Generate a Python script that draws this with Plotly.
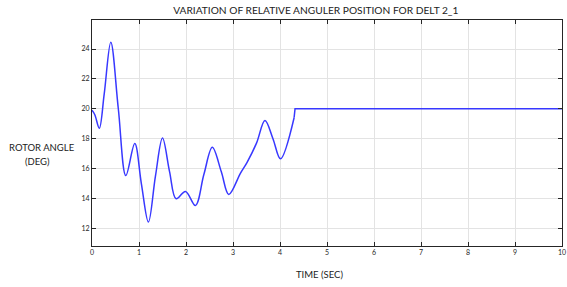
import plotly.graph_objects as go

# Oscillating part
t_osc = [0, 0.06, 0.155, 0.26, 0.40, 0.56, 0.72, 0.91, 1.05, 1.20, 1.35, 1.50, 1.65,
         1.79, 1.99, 2.20, 2.38, 2.56, 2.75, 2.91, 3.16, 3.30, 3.50, 3.68, 3.85, 4.01, 4.30]
y_osc = [19.9, 19.6, 18.7, 21.0, 24.45, 20.0, 15.53, 17.67, 15.0, 12.42, 15.5, 18.04, 15.8,
         13.98, 14.47, 13.53, 15.6, 17.42, 15.8, 14.27, 15.7, 16.42, 17.7, 19.22, 18.0, 16.65, 19.4]
# Settled part
t_flat = [4.30, 4.32, 10]
y_flat = [19.4, 20.0, 20.0]

x_ticks = list(range(0, 11))
y_ticks = [12, 14, 16, 18, 20, 22, 24]

LINE = "#3838ff"
FONT = "Lato, 'Open Sans', sans-serif"

fig = go.Figure()
fig.add_trace(go.Scatter(x=t_osc, y=y_osc, mode="lines",
                         line=dict(color=LINE, width=1.5, shape="spline", smoothing=1.0),
                         showlegend=False, hoverinfo="skip"))
fig.add_trace(go.Scatter(x=t_flat, y=y_flat, mode="lines",
                         line=dict(color=LINE, width=1.5),
                         showlegend=False, hoverinfo="skip"))

axis_common = dict(showgrid=True, gridcolor="#e3e3e3", gridwidth=1,
                   showline=True, linecolor="#262626", linewidth=1, mirror="ticks",
                   ticks="inside", ticklen=4, tickcolor="#262626", automargin=False,
                   tickfont=dict(size=7, color="#262626", family=FONT), zeroline=False)

fig.update_layout(
    width=567, height=287,
    margin=dict(l=92, r=5, t=20, b=41),
    paper_bgcolor="white", plot_bgcolor="white",
    title=dict(text="VARIATION OF RELATIVE ANGULER POSITION FOR DELT 2_1",
               x=0.557, xanchor="center", y=0.963, yanchor="middle",
               font=dict(size=10.2, color="#222222", family=FONT)),
    xaxis=dict(range=[0, 10], tickvals=x_ticks, **axis_common),
    yaxis=dict(range=[10.82, 25.94], tickvals=y_ticks, **axis_common),
    annotations=[
        dict(text="TIME (SEC)", xref="paper", yref="paper", x=0.484, y=-0.124,
             xanchor="center", yanchor="middle", showarrow=False,
             font=dict(size=9.5, color="#222222", family=FONT)),
        dict(text="ROTOR ANGLE", xref="paper", yref="paper", x=-0.181, y=0.434,
             xanchor="left", yanchor="middle", showarrow=False,
             font=dict(size=9.5, color="#222222", family=FONT)),
        dict(text="(DEG)", xref="paper", yref="paper", x=-0.147, y=0.376,
             xanchor="left", yanchor="middle", showarrow=False,
             font=dict(size=9.5, color="#222222", family=FONT)),
    ],
)

fig.write_html("out.html",
               config={"displayModeBar": False},
               post_script="document.body.style.margin='0';document.body.style.overflow='hidden';")
